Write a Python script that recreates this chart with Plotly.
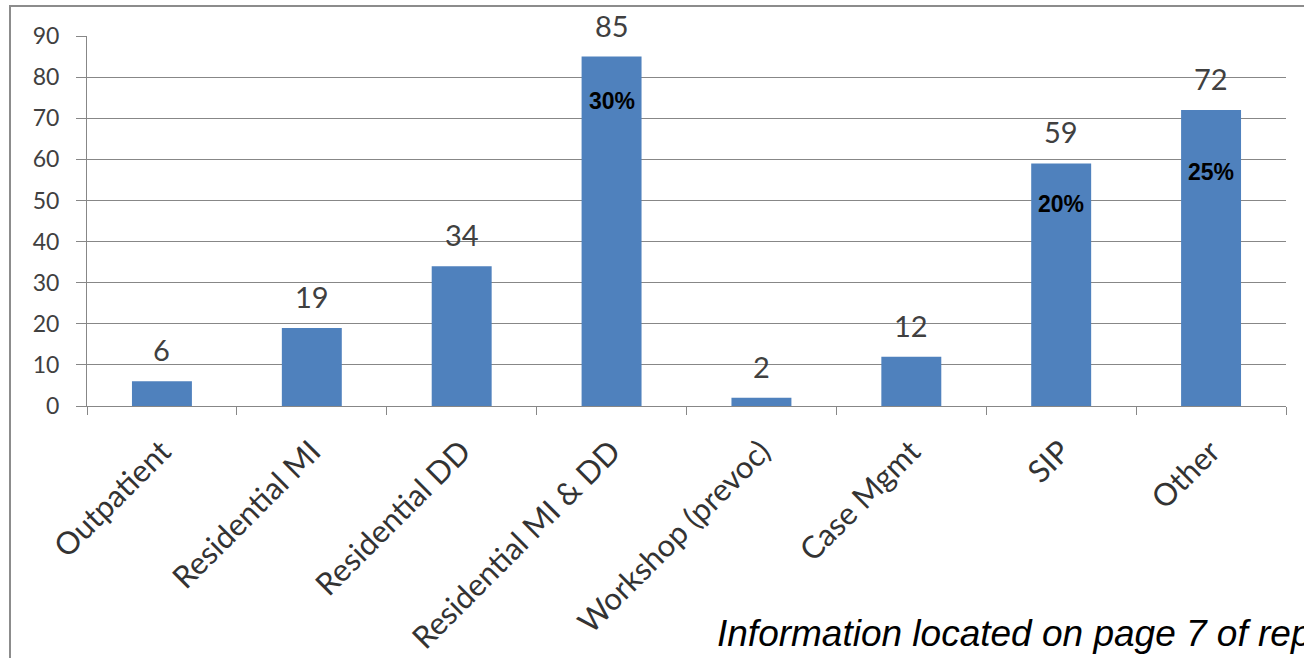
import plotly.graph_objects as go

# Service categories and counts
categories = ["Outpatient", "Residential MI", "Residential DD", "Residential MI & DD",
              "Workshop (prevoc)", "Case Mgmt", "SIP", "Other"]
counts = [6, 19, 34, 85, 2, 12, 59, 72]

# Share labels shown inside the largest bars
share_categories = ["Residential MI & DD", "SIP", "Other"]
share_labels = ["30%", "20%", "25%"]
share_offsets = [-44, -41, -62]  # px below the bar top

y_ticks = [0, 10, 20, 30, 40, 50, 60, 70, 80, 90]

W, H = 1304, 658
L, R, T, B = 87, 18, 36, 252
pw, ph = W - L - R, H - T - B

def px_to_paper_x(px):
    return (px - L) / pw

def px_to_paper_y(py):
    return 1 - (py - T) / ph

fig = go.Figure()
fig.add_trace(go.Bar(
    x=categories, y=counts,
    marker=dict(color="#4F81BD", line=dict(width=0)),
    width=0.4,
    hoverinfo="x+y",
))

annotations = []
for c, v in zip(categories, counts):
    annotations.append(dict(
        x=c, y=v, xref="x", yref="y", text=str(v), showarrow=False,
        yanchor="bottom", yshift=12,
        font=dict(family="Lato", size=29, color="#404040"),
    ))

value_of = dict(zip(categories, counts))
for c, lab, off in zip(share_categories, share_labels, share_offsets):
    annotations.append(dict(
        x=c, y=value_of[c], xref="x", yref="y", text=f"<b>{lab}</b>", showarrow=False,
        yanchor="middle", yshift=off,
        font=dict(family="Liberation Sans, Arial", size=23, color="#000000"),
    ))

# Source note at the bottom right; it runs past the right edge of the page
annotations.append(dict(
    x=px_to_paper_x(715), y=px_to_paper_y(633), xref="paper", yref="paper",
    text="<i>Information located on page 7 of report</i>", showarrow=False,
    xanchor="left", yanchor="middle",
    font=dict(family="Liberation Sans, Arial", size=37, color="#000000"),
))

fig.update_layout(
    width=W, height=H,
    margin=dict(l=L, r=R, t=T, b=B, pad=0, autoexpand=False),
    paper_bgcolor="#FFFFFF", plot_bgcolor="#FFFFFF",
    showlegend=False,
    bargap=0.6,
    annotations=annotations,
    shapes=[dict(
        type="rect", xref="paper", yref="paper", layer="below",
        x0=px_to_paper_x(10), y0=px_to_paper_y(700),
        x1=px_to_paper_x(1400), y1=px_to_paper_y(6),
        line=dict(color="#8C8C8C", width=2), fillcolor="rgba(0,0,0,0)",
    )],
)

fig.update_xaxes(
    type="category", automargin=False,
    showline=True, linecolor="#878787", linewidth=1,
    ticks="outside", ticklen=8, tickcolor="#878787",
    tickson="boundaries",
    tickangle=-45,
    tickfont=dict(family="Lato", size=31, color="#333333"),
    ticklabelstandoff=14,
    showgrid=False,
)
fig.update_yaxes(
    range=[0, 90], tickvals=y_ticks, automargin=False,
    showline=True, linecolor="#878787", linewidth=1,
    ticks="outside", ticklen=10, tickcolor="#878787",
    showgrid=True, gridcolor="#878787", gridwidth=1,
    zeroline=False,
    tickfont=dict(family="Lato", size=23, color="#404040"),
    ticklabelstandoff=12,
)

fig.write_html("out.html")
